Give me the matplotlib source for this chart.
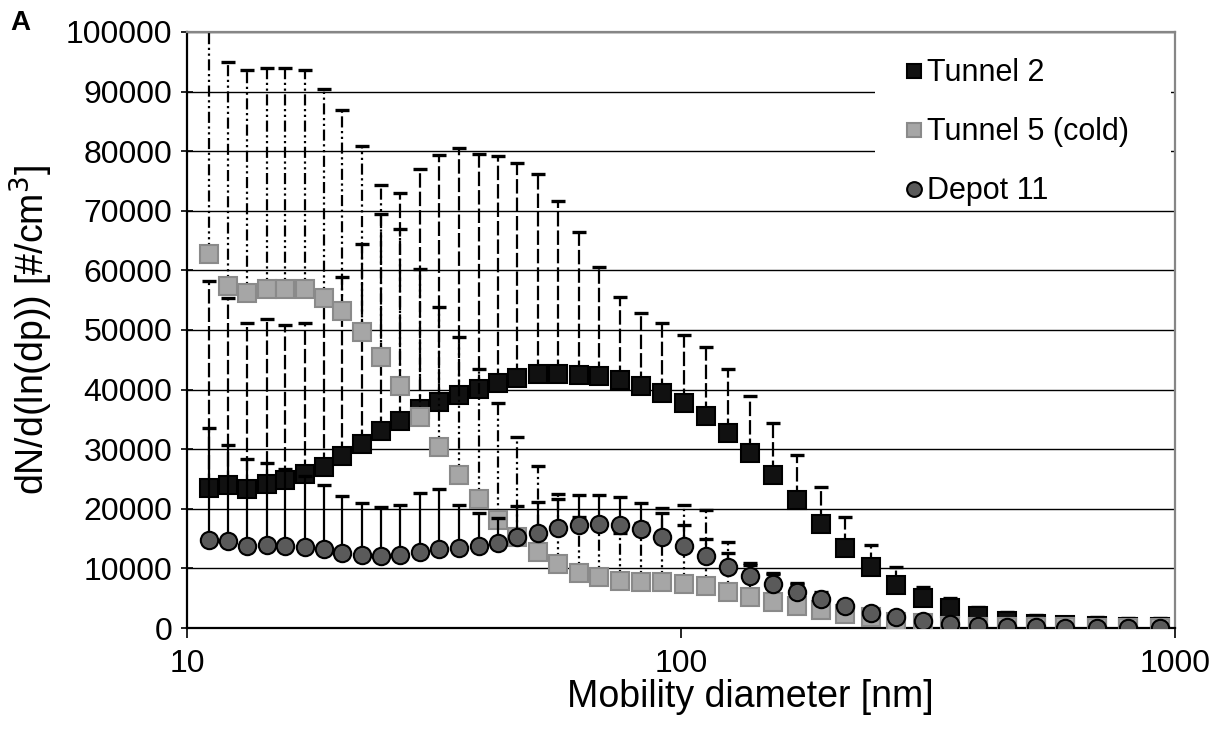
import matplotlib
matplotlib.use('Agg')
import matplotlib.pyplot as plt
from matplotlib.patches import Rectangle
import numpy as np

plt.rcParams['font.family'] = ['Liberation Sans', 'DejaVu Sans']

# mobility diameter of each size channel [nm]
diam = [11.1, 12.1, 13.2, 14.5, 15.8, 17.3, 18.9, 20.6, 22.6, 24.7, 27.0, 29.6, 32.4,
        35.5, 39.0, 42.6, 46.6, 51.4, 56.4, 62.2, 68.2, 75.2, 83.0, 91.5, 101.4, 112.4,
        124.5, 137.9, 153.6, 171.7, 192.1, 214.8, 242.4, 272.4, 309.0, 350.4, 399.2,
        457.1, 523.2, 598.8, 695.3, 803.4, 932.4]

# mean dN/dlndp and top of the error bar (mean + 1 sd) for each site
t2_mean = [23500, 24000, 23400, 24200, 24900, 25800, 27000, 28800, 30900, 33100, 34800,
           36800, 37900, 39100, 40100, 41100, 41900, 42600, 42700, 42500, 42300, 41600,
           40600, 39400, 37700, 35500, 32800, 29300, 25600, 21400, 17500, 13500, 10200,
           7200, 4950, 3350, 2000, 1250, 700, 480, 300, 220, 170]
t2_upper = [58300, 55300, 51200, 51900, 50800, 51200, 55000, 58950, 64400, 69400, 73000,
            77000, 79400, 80600, 79600, 79200, 78100, 76100, 71700, 66400, 60600, 55600,
            52900, 51200, 49200, 47200, 43500, 39000, 34400, 29000, 23700, 18700, 14000,
            10300, 6800, 5000, 3500, 2700, 2100, 1900, 1800, 1700, 1600]

t5_mean = [62700, 57300, 56200, 56800, 56800, 56800, 55400, 53200, 49600, 45500, 40600,
           35400, 30300, 25700, 21700, 18200, 15200, 12700, 10700, 9300, 8500, 7900,
           7800, 7700, 7400, 7000, 6100, 5150, 4400, 3700, 3000, 2350, 1800, 1060, 780,
           340, 250, 180, 130, 100, 80, 60, 50]
t5_upper = [110000, 95000, 93600, 94000, 94000, 93600, 90500, 86900, 80800, 74300, 67000,
            60300, 53900, 48900, 43500, 37800, 32100, 27100, 22400, 18600, 17500, 15900,
            17700, 20200, 20700, 19800, 14500, 10900, 9200, 7500, 5200, 3800, 2800, 1800,
            1200, 600, 400, 300, 200, 150, 120, 100, 80]

d11_mean = [14800, 14650, 13800, 13900, 13750, 13550, 13200, 12650, 12250, 12100, 12250,
            12700, 13200, 13400, 13750, 14300, 15200, 16000, 16850, 17300, 17450, 17250,
            16550, 15300, 13700, 12100, 10300, 8750, 7400, 6100, 4800, 3650, 2600, 1900,
            1250, 680, 400, 200, 120, 80, 60, 40, 30]
d11_upper = [33500, 30700, 28400, 27700, 26700, 25500, 24000, 22200, 21000, 20300, 20600,
             22650, 23300, 20600, 19300, 18500, 20400, 21200, 21600, 22300, 22300, 21900,
             20900, 19350, 17200, 14900, 12600, 10500, 9000, 7300, 6000, 4500, 3200, 2300,
             1500, 800, 500, 300, 200, 150, 100, 80, 60]

W, H = 1223, 737
fig = plt.figure(figsize=(W / 100, H / 100), dpi=100)
ax = fig.add_axes([187/W, 109/H, 988/W, 596/H])

series = [
    ('Tunnel 2', t2_mean, t2_upper, 's', '#111111', 'black', (0, (6.5, 1.8))),
    ('Tunnel 5 (cold)', t5_mean, t5_upper, 's', '#a6a6a6', '#8a8a8a',
     (0, (5, 1.6, 1, 1.6, 1, 1.6))),
    ('Depot 11', d11_mean, d11_upper, 'o', '#5a5a5a', 'black', 'solid'),
]

handles = []
z = 3
for name, mean, upper, mk, fc, ec, ls in series:
    mean = np.array(mean, dtype=float)
    upper = np.array(upper, dtype=float)
    err = [np.zeros_like(mean), upper - mean]
    eb = ax.errorbar(diam, mean, yerr=err, fmt='none', ecolor='black',
                     elinewidth=1.6, capsize=5, capthick=2.4, zorder=z)
    eb[2][0].set_linestyle(ls)
    line, = ax.plot(diam, mean, linestyle='none', marker=mk, markersize=12.5,
                    markerfacecolor=fc, markeredgecolor=ec, markeredgewidth=1.5,
                    label=name, zorder=z + 1)
    handles.append(line)
    z += 2

ax.set_xscale('log')
ax.set_xlim(10, 1000)
ax.set_ylim(0, 100000)
ax.set_xticks([10, 100, 1000])
ax.set_xticklabels(['10', '100', '1000'])
ax.xaxis.set_minor_locator(matplotlib.ticker.NullLocator())
ax.set_yticks(np.arange(0, 100001, 10000))
ax.set_yticklabels([str(v) for v in range(0, 100001, 10000)])

ax.yaxis.grid(True, color='black', linewidth=1.0)
ax.set_axisbelow(True)

for s in ['left', 'bottom']:
    ax.spines[s].set_color('black')
    ax.spines[s].set_linewidth(1.6)
for s in ['top', 'right']:
    ax.spines[s].set_color('#868686')
    ax.spines[s].set_linewidth(1.6)

ax.tick_params(axis='y', direction='inout', length=9, width=1.2, labelsize=23, pad=6)
ax.tick_params(axis='x', direction='out', length=7, width=1.2, labelsize=23, pad=8)

ax.set_xlabel('Mobility diameter [nm]', fontsize=27)
ax.xaxis.set_label_coords((750 - 187) / 988, -0.085)
ax.set_ylabel('dN/d(ln(dp)) [#/cm$^3$]', fontsize=27)
ax.yaxis.set_label_coords(-0.134, 0.5)

# white block behind the legend hides the gridlines there
ax.add_patch(Rectangle((875/W, 1 - 205/H), (1171 - 875)/W, (205 - 44)/H,
                       transform=fig.transFigure, facecolor='white',
                       edgecolor='none', zorder=1.5, clip_on=False))

leg = ax.legend(handles=handles, loc='upper left',
                bbox_to_anchor=(890/W, 1 - 43/H), bbox_transform=fig.transFigure,
                fontsize=22, markerscale=0.85, handlelength=0.6, handletextpad=0.1,
                labelspacing=0.95, borderpad=0.0, frameon=False)
leg.set_zorder(10)

fig.text(10/W, 1 - 10/H, 'A', fontsize=20, fontweight='bold', va='top', ha='left')

fig.savefig('out.png', dpi=100)
